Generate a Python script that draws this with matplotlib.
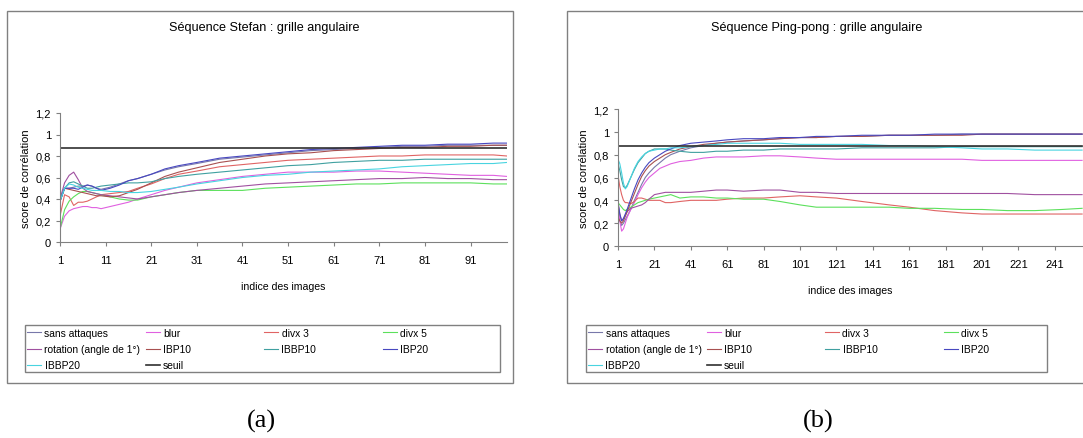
import matplotlib
matplotlib.use("Agg")
import matplotlib.pyplot as plt
from matplotlib.patches import Rectangle

# === Séries ===
series_names = ["sans attaques", "blur", "divx 3", "divx 5", "rotation (angle de 1°)",
                "IBP10", "IBBP10", "IBP20", "IBBP20", "seuil"]

# --- Séquence Stefan ---
stefan_idx = [1, 2, 3, 4, 5, 6, 7, 8, 9, 10, 12, 14, 16, 18, 21, 24, 27, 31, 36, 41,
              46, 51, 56, 61, 66, 71, 76, 81, 86, 91, 96, 99]
stefan_sans = [0.38, 0.50, 0.50, 0.51, 0.52, 0.52, 0.53, 0.52, 0.50, 0.49, 0.51, 0.54, 0.57, 0.59, 0.63, 0.67,
               0.70, 0.73, 0.77, 0.79, 0.81, 0.83, 0.85, 0.86, 0.87, 0.88, 0.89, 0.89, 0.90, 0.90, 0.90, 0.90]
stefan_blur = [0.12, 0.24, 0.29, 0.31, 0.32, 0.33, 0.33, 0.32, 0.32, 0.31, 0.33, 0.35, 0.37, 0.40, 0.44, 0.48,
               0.51, 0.55, 0.58, 0.61, 0.63, 0.65, 0.65, 0.65, 0.66, 0.66, 0.65, 0.64, 0.63, 0.62, 0.62, 0.61]
stefan_divx3 = [0.24, 0.44, 0.42, 0.34, 0.37, 0.37, 0.38, 0.40, 0.42, 0.44, 0.45, 0.46, 0.47, 0.50, 0.54, 0.59,
                0.63, 0.66, 0.70, 0.72, 0.74, 0.76, 0.77, 0.78, 0.79, 0.80, 0.80, 0.81, 0.81, 0.81, 0.81, 0.80]
stefan_divx5 = [0.12, 0.30, 0.38, 0.42, 0.45, 0.47, 0.47, 0.46, 0.45, 0.44, 0.42, 0.40, 0.39, 0.39, 0.42, 0.44,
                0.46, 0.48, 0.48, 0.48, 0.50, 0.51, 0.52, 0.53, 0.54, 0.54, 0.55, 0.55, 0.55, 0.55, 0.54, 0.54]
stefan_rot = [0.40, 0.55, 0.62, 0.65, 0.58, 0.50, 0.47, 0.46, 0.45, 0.44, 0.43, 0.42, 0.41, 0.40, 0.42, 0.44,
              0.46, 0.48, 0.50, 0.52, 0.54, 0.55, 0.56, 0.57, 0.58, 0.59, 0.59, 0.60, 0.59, 0.59, 0.58, 0.58]
stefan_ibp10 = [0.38, 0.50, 0.49, 0.48, 0.47, 0.46, 0.45, 0.44, 0.43, 0.43, 0.42, 0.43, 0.46, 0.49, 0.55, 0.61,
                0.65, 0.69, 0.74, 0.77, 0.80, 0.82, 0.83, 0.85, 0.86, 0.87, 0.88, 0.88, 0.89, 0.89, 0.90, 0.90]
stefan_ibbp10 = [0.38, 0.50, 0.55, 0.56, 0.54, 0.52, 0.50, 0.50, 0.51, 0.52, 0.53, 0.54, 0.55, 0.55, 0.56, 0.59,
                 0.61, 0.63, 0.65, 0.67, 0.69, 0.71, 0.72, 0.74, 0.75, 0.76, 0.76, 0.77, 0.77, 0.77, 0.77, 0.77]
stefan_ibp20 = [0.38, 0.50, 0.50, 0.50, 0.49, 0.51, 0.53, 0.52, 0.50, 0.48, 0.50, 0.53, 0.57, 0.59, 0.63, 0.68,
                0.71, 0.74, 0.78, 0.80, 0.82, 0.84, 0.86, 0.87, 0.88, 0.89, 0.90, 0.90, 0.91, 0.91, 0.92, 0.92]
stefan_ibbp20 = [0.38, 0.50, 0.54, 0.53, 0.51, 0.50, 0.49, 0.48, 0.48, 0.48, 0.47, 0.47, 0.46, 0.46, 0.47, 0.49,
                 0.51, 0.54, 0.57, 0.60, 0.62, 0.63, 0.65, 0.66, 0.67, 0.68, 0.70, 0.71, 0.72, 0.73, 0.73, 0.74]
stefan_seuil = 0.87

# --- Séquence Ping-pong ---
ping_idx = [1, 2, 3, 4, 5, 6, 8, 10, 12, 14, 16, 18, 21, 24, 27, 30, 35, 41, 48, 55, 61, 70, 81, 90,
            101, 110, 121, 135, 150, 161, 175, 190, 201, 215, 230, 245, 256]
ping_sans = [0.30, 0.22, 0.18, 0.20, 0.23, 0.26, 0.32, 0.40, 0.47, 0.54, 0.60, 0.64, 0.69, 0.73, 0.77, 0.80,
             0.83, 0.86, 0.88, 0.90, 0.91, 0.92, 0.93, 0.94, 0.95, 0.95, 0.96, 0.96, 0.97, 0.97, 0.97, 0.98,
             0.98, 0.98, 0.98, 0.98, 0.98]
ping_blur = [0.38, 0.22, 0.13, 0.15, 0.20, 0.25, 0.32, 0.38, 0.45, 0.51, 0.56, 0.60, 0.64, 0.68, 0.70, 0.72,
             0.74, 0.75, 0.77, 0.78, 0.78, 0.78, 0.79, 0.79, 0.78, 0.77, 0.76, 0.76, 0.76, 0.76, 0.76, 0.76,
             0.75, 0.75, 0.75, 0.75, 0.75]
ping_divx3 = [0.62, 0.52, 0.45, 0.40, 0.38, 0.38, 0.37, 0.39, 0.42, 0.42, 0.41, 0.40, 0.40, 0.40, 0.38, 0.38,
              0.39, 0.40, 0.40, 0.40, 0.41, 0.42, 0.42, 0.43, 0.44, 0.43, 0.42, 0.39, 0.36, 0.34, 0.31, 0.29,
              0.28, 0.28, 0.28, 0.28, 0.28]
ping_divx5 = [0.38, 0.36, 0.34, 0.32, 0.31, 0.32, 0.34, 0.36, 0.38, 0.39, 0.40, 0.41, 0.42, 0.43, 0.44, 0.45,
              0.42, 0.43, 0.43, 0.42, 0.42, 0.41, 0.41, 0.39, 0.36, 0.34, 0.34, 0.34, 0.34, 0.33, 0.33, 0.32,
              0.32, 0.31, 0.31, 0.32, 0.33]
ping_rot = [0.38, 0.28, 0.22, 0.24, 0.27, 0.30, 0.33, 0.34, 0.35, 0.36, 0.38, 0.41, 0.45, 0.46, 0.47, 0.47,
            0.47, 0.47, 0.48, 0.49, 0.49, 0.48, 0.49, 0.49, 0.47, 0.47, 0.46, 0.46, 0.46, 0.46, 0.46, 0.46,
            0.46, 0.46, 0.45, 0.45, 0.45]
ping_ibp10 = [0.25, 0.22, 0.20, 0.22, 0.26, 0.30, 0.38, 0.46, 0.54, 0.61, 0.66, 0.70, 0.74, 0.77, 0.80, 0.82,
              0.85, 0.87, 0.89, 0.90, 0.91, 0.92, 0.93, 0.94, 0.95, 0.95, 0.96, 0.96, 0.97, 0.97, 0.97, 0.97,
              0.98, 0.98, 0.98, 0.98, 0.98]
ping_ibbp10 = [0.72, 0.66, 0.58, 0.52, 0.51, 0.53, 0.60, 0.67, 0.73, 0.77, 0.81, 0.83, 0.85, 0.85, 0.85, 0.84,
               0.83, 0.82, 0.82, 0.83, 0.83, 0.84, 0.84, 0.85, 0.85, 0.85, 0.85, 0.86, 0.86, 0.86, 0.86, 0.87,
               0.87, 0.87, 0.87, 0.87, 0.87]
ping_ibp20 = [0.38, 0.28, 0.22, 0.24, 0.28, 0.32, 0.41, 0.50, 0.58, 0.64, 0.69, 0.73, 0.77, 0.80, 0.83, 0.85,
              0.88, 0.90, 0.91, 0.92, 0.93, 0.94, 0.94, 0.95, 0.95, 0.96, 0.96, 0.97, 0.97, 0.97, 0.98, 0.98,
              0.98, 0.98, 0.98, 0.98, 0.98]
ping_ibbp20 = [0.76, 0.72, 0.64, 0.55, 0.50, 0.52, 0.60, 0.68, 0.74, 0.78, 0.81, 0.83, 0.84, 0.85, 0.85, 0.86,
               0.86, 0.87, 0.88, 0.89, 0.90, 0.90, 0.90, 0.90, 0.89, 0.89, 0.89, 0.89, 0.88, 0.88, 0.87, 0.86,
               0.85, 0.85, 0.84, 0.84, 0.84]
ping_seuil = 0.88

y_ticks = [0, 0.2, 0.4, 0.6, 0.8, 1.0, 1.2]
y_ticklabels = ["0", "0,2", "0,4", "0,6", "0,8", "1", "1,2"]
stefan_xticks = [1, 11, 21, 31, 41, 51, 61, 71, 81, 91]
ping_xticks = [1, 21, 41, 61, 81, 101, 121, 141, 161, 181, 201, 221, 241]

# === Couleurs (palette Excel) ===
colors = ["#7878aa", "#e060e0", "#e06464", "#5ce05c", "#a050a0",
          "#a85050", "#40a0a0", "#4848c0", "#48d4e0", "#303030"]

plt.rcParams["font.family"] = ["Liberation Sans", "DejaVu Sans"]
plt.rcParams["font.size"] = 8

W, H = 1083, 439
fig = plt.figure(figsize=(W / 100, H / 100), dpi=100)


def px_rect(x0, y0, x1, y1):
    # pixels (origine en haut) -> coordonnées figure
    return [x0 / W, 1 - y1 / H, (x1 - x0) / W, (y1 - y0) / H]


def panel(frame, ax_box, legend_box, title, title_x, x_idx, series, seuil, xlim, xticks):
    # cadre du graphique
    fx = px_rect(*frame)
    fig.patches.append(Rectangle((fx[0], fx[1]), fx[2], fx[3], transform=fig.transFigure,
                                 fill=False, edgecolor="#808080", linewidth=1))
    ax = fig.add_axes(px_rect(*ax_box))
    handles = []
    for vals, col in zip(series, colors[:-1]):
        h, = ax.plot(x_idx, vals, color=col, linewidth=0.8)
        handles.append(h)
    h, = ax.plot([x_idx[0], x_idx[-1]], [seuil, seuil], color=colors[-1], linewidth=1.2)
    handles.append(h)

    ax.set_xlim(*xlim)
    ax.set_ylim(0, 1.2)
    ax.set_yticks(y_ticks)
    ax.set_yticklabels(y_ticklabels)
    ax.set_xticks(xticks)
    for s in ["top", "right"]:
        ax.spines[s].set_visible(False)
    for s in ["left", "bottom"]:
        ax.spines[s].set_color("#808080")
    ax.tick_params(length=3, color="#808080", labelsize=8)
    ax.tick_params(axis="x", pad=6)
    ax.set_ylabel("score de corrélation", fontsize=8, labelpad=3)
    ax.set_xlabel("indice des images", fontsize=7.6, labelpad=12)

    fig.text(title_x / W, 1 - 28 / H, title, ha="center", va="center", fontsize=9.1)

    # légende : boîte + 4 colonnes
    lx = px_rect(*legend_box)
    fig.patches.append(Rectangle((lx[0], lx[1]), lx[2], lx[3], transform=fig.transFigure,
                                 fill=False, edgecolor="#808080", linewidth=1))
    cols = [[0, 4, 8], [1, 5, 9], [2, 6], [3, 7]]
    for k, c in enumerate(cols):
        x0 = legend_box[0] + 1 + k * 118.5
        fig.legend([handles[i] for i in c], [series_names[i] for i in c],
                   loc="upper left", bbox_to_anchor=(x0 / W, 1 - (legend_box[1] + 2) / H),
                   frameon=False, fontsize=7.4, handlelength=1.4, handletextpad=0.3,
                   labelspacing=0.6, borderpad=0.1, borderaxespad=0)
    return ax


stefan_series = [stefan_sans, stefan_blur, stefan_divx3, stefan_divx5, stefan_rot,
                 stefan_ibp10, stefan_ibbp10, stefan_ibp20, stefan_ibbp20]
ping_series = [ping_sans, ping_blur, ping_divx3, ping_divx5, ping_rot,
               ping_ibp10, ping_ibbp10, ping_ibp20, ping_ibbp20]

panel((7, 12, 513, 384), (60, 114, 507, 243), (25, 326, 500, 373),
      "Séquence Stefan : grille angulaire", 264, stefan_idx, stefan_series, stefan_seuil,
      (1, 99), stefan_xticks)
panel((567, 12, 1100, 384), (618, 110, 1083, 247), (586, 326, 1047, 373),
      "Séquence Ping-pong : grille angulaire", 817, ping_idx, ping_series, ping_seuil,
      (1, 256.5), ping_xticks)

# === Légendes (a) / (b) ===
fig.text(261 / W, 1 - 421 / H, "(a)", ha="center", va="center", fontsize=19,
         family=["Liberation Serif", "DejaVu Serif"])
fig.text(818 / W, 1 - 421 / H, "(b)", ha="center", va="center", fontsize=19,
         family=["Liberation Serif", "DejaVu Serif"])

plt.savefig("out.png", dpi=100)
